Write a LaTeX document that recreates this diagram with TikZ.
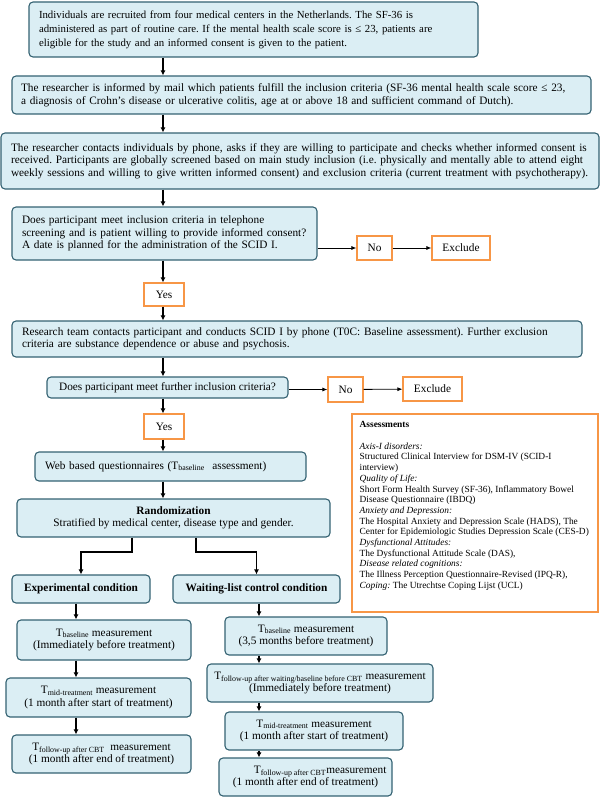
\documentclass[tikz,border=0pt]{standalone}
\usepackage{fontspec}
\setmainfont{Liberation Serif}
\usepackage{tikz}
\usetikzlibrary{arrows.meta,positioning}
\definecolor{boxfill}{RGB}{219,238,244}
\definecolor{boxline}{RGB}{52,98,114}
\definecolor{myorange}{RGB}{247,150,70}
\frenchspacing

\begin{document}
\begin{tikzpicture}[x=1pt, y=-1pt, font=\fontsize{11.3}{12.5}\selectfont,
        block/.style={draw=boxline, fill=boxfill, line width=1.1pt, rounded corners=4pt,
                      inner xsep=10pt, inner ysep=0pt, align=left},
        cblock/.style={block, align=center, inner xsep=0pt},
        answer/.style={draw=myorange, fill=white, line width=1.1pt, inner sep=0pt},
        arr/.style={line width=1.5pt, -{Latex[length=5pt,width=5pt]}},
        thinarr/.style={line width=0.8pt, -{Latex[length=5pt,width=4pt]}}]
        \useasboundingbox (0,0) rectangle (600,797);
        \coordinate (xa) at (163,0);
        \coordinate (xl) at (76,0);
        \coordinate (xr) at (259,0);
        \coordinate (kl) at (132,552);
        \coordinate (kr) at (196,552);

        % screening
        \node[block, text width=429pt, minimum height=55pt, font=\fontsize{10.8}{14}\selectfont] (recruit) at (253.5,29.5)
            {Individuals are recruited from four medical centers in the Netherlands. The SF-36 is\\
             administered as part of routine care. If the mental health scale score is ≤ 23, patients are\\
             eligible for the study and an informed consent is given to the patient.};
        \node[block, text width=561pt, inner xsep=9pt, minimum height=38pt] (mail) at (301.5,95)
            {The researcher is informed by mail which patients fulfill the inclusion criteria (SF-36 mental health scale score ≤ 23,\\
             a diagnosis of Crohn’s disease or ulcerative colitis, age at or above 18 and sufficient command of Dutch).};
        \node[block, text width=578pt, minimum height=56pt] (phone) at (300,161)
            {The researcher contacts individuals by phone, asks if they are willing to participate and checks whether informed consent is\\
             received. Participants are globally screened based on main study inclusion (i.e. physically and mentally able to attend eight\\
             weekly sessions and willing to give written informed consent) and exclusion criteria (current treatment with psychotherapy).};
        \node[block, text width=285pt, minimum height=53pt] (tel) at (164.5,233.5)
            {Does participant meet inclusion criteria in telephone\\
             screening and is patient willing to provide informed consent?\\
             A date is planned for the administration of the SCID I.};
        \node[answer, minimum width=35pt, minimum height=24pt] (no1) at (374.5,248) {No};
        \node[answer, minimum width=58pt, minimum height=24pt] (ex1) at (461,248) {Exclude};
        \node[answer, minimum width=40pt, minimum height=23pt] (yes1) at (164,294.5) {Yes};
        \node[block, text width=550pt, minimum height=36pt] (scid) at (297,339)
            {Research team contacts participant and conducts SCID I by phone (T0C: Baseline assessment). Further exclusion\\
             criteria are substance dependence or abuse and psychosis.};
        \node[cblock, minimum width=241pt, minimum height=21pt] (further) at (167.5,387.5)
            {Does participant meet further inclusion criteria?};
        \node[answer, minimum width=35pt, minimum height=25pt] (no2) at (345.5,389.5) {No};
        \node[answer, minimum width=59pt, minimum height=24pt] (ex2) at (432.5,389) {Exclude};
        \node[answer, minimum width=40pt, minimum height=25pt] (yes2) at (164,426.5) {Yes};
        \node[block, text width=251pt, minimum height=29pt] (web) at (170.5,466.5)
            {Web based questionnaires (T\textsubscript{baseline}\ \ assessment)};
        \node[cblock, minimum width=313pt, minimum height=38pt] (rand) at (173.5,518)
            {\textbf{Randomization}\\Stratified by medical center, disease type and gender.};

        % assessments
        \node[draw=myorange, line width=1.1pt, minimum width=246pt, minimum height=198pt] (assess) at (475,513) {};
        \node[inner sep=0pt, anchor=north west, align=left, font=\fontsize{9.4}{10.7}\selectfont]
            (assesstext) [below right=8pt and 8pt of assess.north west]
            {\textbf{Assessments}\\[10.7pt]
             \textit{Axis-I disorders:}\\
             Structured Clinical Interview for DSM-IV (SCID-I\\
             interview)\\
             \textit{Quality of Life:}\\
             Short Form Health Survey (SF-36), Inflammatory Bowel\\
             Disease Questionnaire (IBDQ)\\
             \textit{Anxiety and Depression:}\\
             The Hospital Anxiety and Depression Scale (HADS), The\\
             Center for Epidemiologic Studies Depression Scale (CES-D)\\
             \textit{Dysfunctional Attitudes:}\\
             The Dysfunctional Attitude Scale (DAS),\\
             \textit{Disease related cognitions:}\\
             The Illness Perception Questionnaire-Revised (IPQ-R),\\
             \textit{Coping:} The Utrechtse Coping Lijst (UCL)};

        % conditions
        \node[cblock, minimum width=138pt, minimum height=28pt] (exper) at (81,589) {\textbf{Experimental condition}};
        \node[cblock, minimum width=167pt, minimum height=28pt] (wait) at (256.5,589) {\textbf{Waiting-list control condition}};
        \node[cblock, minimum width=174pt, minimum height=40pt] (baseL) at (104,640)
            {T\textsubscript{baseline} measurement\\(Immediately before treatment)};
        \node[cblock, minimum width=185pt, minimum height=39pt] (midL) at (98.5,697.5)
            {T\textsubscript{mid-treatment} measurement\\(1 month after start of treatment)};
        \node[cblock, minimum width=179pt, minimum height=38pt] (follL) at (101.5,754)
            {T\textsubscript{follow-up after CBT}\ \ measurement\\(1 month after end of treatment)};
        \node[cblock, minimum width=162pt, minimum height=38pt] (baseR) at (306,636)
            {T\textsubscript{baseline} measurement\\(3,5 months before treatment)};
        \node[cblock, minimum width=226pt, minimum height=38pt] (waitR) at (320,683)
            {T\textsubscript{follow-up after waiting/baseline before CBT} measurement\\(Immediately before treatment)};
        \node[cblock, minimum width=178pt, minimum height=38pt] (midR) at (314,731)
            {T\textsubscript{mid-treatment} measurement\\(1 month after start of treatment)};
        \node[cblock, minimum width=173pt, minimum height=38pt] (follR) at (305.5,777)
            {\hspace{2.6em}T\textsubscript{follow-up after CBT}measurement\\(1 month after end of treatment)};

        \path[arr] (recruit.south -| xa) edge (mail.north -| xa)
              (mail.south -| xa) edge (phone.north -| xa)
              (phone.south -| xa) edge (tel.north -| xa)
              (tel.south -| xa) edge (yes1.north -| xa)
              (yes1.south -| xa) edge (scid.north -| xa)
              (scid.south -| xa) edge (further.north -| xa)
              (further.south -| xa) edge (yes2.north -| xa)
              (yes2.south -| xa) edge (web.north -| xa)
              (web.south -| xa) edge (rand.north -| xa);
        \path[thinarr] (no1.west -| tel.east) edge (no1)
              (no1) edge (ex1)
              (no2.west -| further.east) edge (no2)
              (no2) edge (ex2);
        \draw[arr] (rand.south -| kl) -- (kl) -| (exper.north);
        \draw[arr] (rand.south -| kr) -- (kr) -| (wait.north);
        \path[arr] (exper.south -| xl) edge (baseL.north -| xl)
              (baseL.south -| xl) edge (midL.north -| xl)
              (midL.south -| xl) edge (follL.north -| xl)
              (wait.south -| xr) edge (baseR.north -| xr)
              (baseR.south -| xr) edge (waitR.north -| xr)
              (waitR.south -| xr) edge (midR.north -| xr)
              (midR.south -| xr) edge (follR.north -| xr);
    \end{tikzpicture}
\end{document}
